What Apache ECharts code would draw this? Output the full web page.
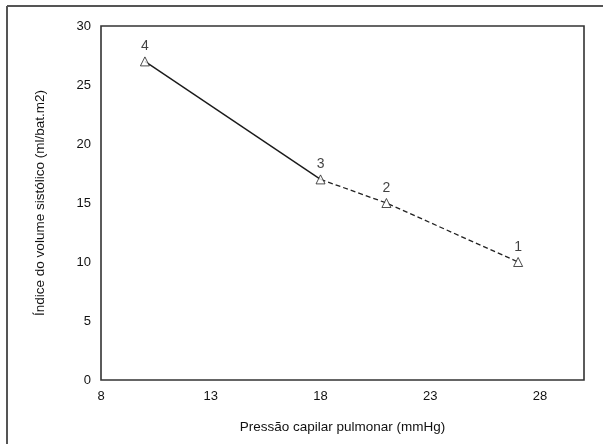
<!DOCTYPE html>
<html>
<head>
<meta charset="utf-8">
<script src="https://cdn.jsdelivr.net/npm/echarts@6/dist/echarts.min.js"></script>
<style>
  html, body { margin: 0; padding: 0; background: #fff; }
  #chart { width: 603px; height: 444px; }
</style>
</head>
<body>
<div id="chart"></div>
<script>
// Data
const pressure = [10, 18, 21, 27];          // Pressão capilar pulmonar (mmHg)
const strokeIndex = [27, 17, 15, 10];       // Índice do volume sistólico (ml/bat.m2)
const pointLabels = ['4', '3', '2', '1'];
const xTicks = [8, 13, 18, 23, 28];
const yTicks = [0, 5, 10, 15, 20, 25, 30];

const xName = 'Pressão capilar pulmonar (mmHg)';
const yName = 'Índice do volume sistólico (ml/bat.m2)';

const pts = pressure.map((x, i) => [x, strokeIndex[i]]);
const solidPart = pts.slice(0, 2);
const dashedPart = pts.slice(1);

const font = 'Liberation Sans, Arial, sans-serif';
const chart = echarts.init(document.getElementById('chart'), null, { renderer: 'canvas' });

const markerStyle = { color: '#fff', borderColor: '#222', borderWidth: 1 };

chart.setOption({
  animation: false,
  backgroundColor: '#fff',
  textStyle: { fontFamily: font },
  grid: {
    left: 101, right: 19, top: 26, bottom: 64,
    show: true, borderColor: '#333', borderWidth: 1.6, backgroundColor: 'transparent'
  },
  graphic: [
    { type: 'line', shape: { x1: 7, y1: 6, x2: 603, y2: 6 }, style: { stroke: '#555', lineWidth: 2 } },
    { type: 'line', shape: { x1: 7, y1: 6, x2: 7, y2: 444 }, style: { stroke: '#555', lineWidth: 2 } }
  ],
  xAxis: {
    type: 'value', min: 8, max: 30, interval: 5,
    name: xName, nameLocation: 'middle', nameGap: 40,
    nameTextStyle: { fontSize: 13.5, color: '#111', fontFamily: font },
    axisLine: { show: false }, axisTick: { show: false }, splitLine: { show: false },
    axisLabel: {
      fontSize: 13, color: '#111', margin: 10, fontFamily: font,
      showMaxLabel: false,
      formatter: v => (xTicks.includes(v) ? String(v) : '')
    }
  },
  yAxis: {
    type: 'value', min: 0, max: 30, interval: 5,
    name: yName, nameLocation: 'middle', nameGap: 54,
    nameTextStyle: { fontSize: 13.5, color: '#111', fontFamily: font },
    axisLine: { show: false }, axisTick: { show: false }, splitLine: { show: false },
    axisLabel: {
      fontSize: 13, color: '#111', margin: 10, fontFamily: font,
      formatter: v => (yTicks.includes(v) ? String(v) : '')
    }
  },
  series: [
    {
      type: 'line', data: solidPart, symbol: 'none',
      lineStyle: { color: '#1a1a1a', width: 1.4, type: 'solid' }, z: 2
    },
    {
      type: 'line', data: dashedPart, symbol: 'none',
      lineStyle: { color: '#222', width: 1.3, type: [5, 3] }, z: 2
    },
    {
      type: 'scatter', data: pts, symbol: 'triangle', symbolSize: 9,
      itemStyle: markerStyle, z: 3,
      label: {
        show: true, position: 'top', distance: 3,
        fontSize: 14, color: '#111', fontFamily: font,
        formatter: p => pointLabels[p.dataIndex]
      }
    }
  ]
});
</script>
</body>
</html>
